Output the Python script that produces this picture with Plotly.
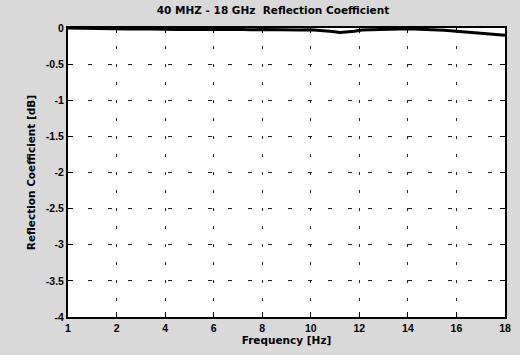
import plotly.graph_objects as go

# Data (x in axis units 0..18, y in dB)
freq = [0, 0.5, 1, 1.5, 2, 2.5, 3, 3.5, 4, 4.5, 5, 5.5, 6, 6.5, 7, 7.5, 8, 8.5, 9, 9.5,
        10, 10.3, 10.6, 10.9, 11.2, 11.5, 11.8, 12.1, 12.5, 13, 13.5, 14, 14.5, 15,
        15.5, 16, 16.5, 17, 17.5, 18]
refl = [0.0, -0.005, -0.008, -0.012, -0.01, -0.015, -0.012, -0.018, -0.014, -0.02, -0.016,
        -0.02, -0.015, -0.022, -0.018, -0.025, -0.02, -0.026, -0.022, -0.028,
        -0.025, -0.03, -0.035, -0.05, -0.062, -0.058, -0.045, -0.028, -0.022, -0.018,
        -0.012, -0.01, -0.018, -0.022, -0.03, -0.045, -0.06, -0.07, -0.085, -0.1]

x_tickvals = [0, 2, 4, 6, 8, 10, 12, 14, 16, 18]
x_ticktext = ["1", "2", "4", "6", "8", "10", "12", "14", "16", "18"]
y_tickvals = [0, -0.5, -1, -1.5, -2, -2.5, -3, -3.5, -4]
y_ticktext = ["0", "-0.5", "-1", "-1.5", "-2", "-2.5", "-3", "-3.5", "-4"]

fig = go.Figure()
fig.add_trace(go.Scatter(x=freq, y=refl, mode="lines",
                         line=dict(color="black", width=3), showlegend=False))

font_family = "Liberation Sans, Arial, sans-serif"
title_family = "DejaVu Sans, sans-serif"
fig.update_layout(
    width=520, height=355,
    margin=dict(l=68, r=9, t=28, b=38),
    paper_bgcolor="#d9d9d9",
    plot_bgcolor="white",
    font=dict(family=font_family, size=10, color="black"),
    title=dict(text="<b>40 MHZ - 18 GHz  Reflection Coefficient</b>",
               x=0.525, xanchor="center", y=0.972, yanchor="middle",
               font=dict(size=10.5, family=title_family)),
)
fig.update_xaxes(
    range=[0, 18], tickvals=x_tickvals, ticktext=x_ticktext,
    showline=True, linecolor="black", linewidth=2, mirror="allticks",
    ticks="inside", ticklen=5, tickcolor="black",
    showgrid=True, gridcolor="#222", griddash="3px,15px", gridwidth=1,
    zeroline=False,
    tickfont=dict(size=10.5, family=font_family, weight="bold"),
    title=dict(text="<b>Frequency [Hz]</b>", font=dict(size=10.5, family=title_family), standoff=3),
)
fig.update_yaxes(
    range=[-4, 0], tickvals=y_tickvals, ticktext=y_ticktext,
    showline=True, linecolor="black", linewidth=2, mirror="allticks",
    ticks="inside", ticklen=5, tickcolor="black",
    showgrid=True, gridcolor="#222", griddash="4px,16px", gridwidth=1,
    zeroline=False,
    tickfont=dict(size=10.5, family=font_family, weight="bold"),
    title=dict(text="<b>Reflection Coefficient [dB]</b>", font=dict(size=10.5, family=title_family), standoff=8),
)

fig.write_html("out.html")
